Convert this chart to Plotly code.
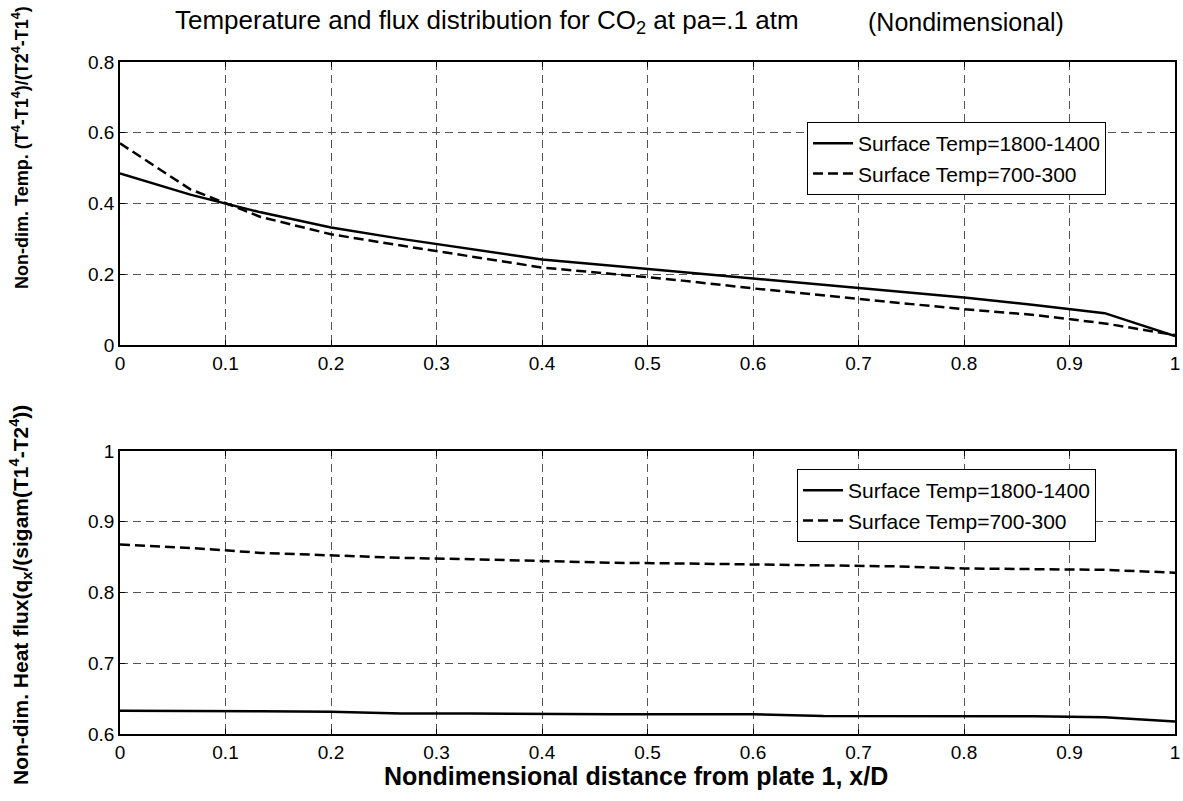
import plotly.graph_objects as go

# x positions (16 nodes, x/D = k/15)
x_nodes = [k / 15 for k in range(16)]

# non-dimensional temperature
temp_hot = [0.485, 0.425, 0.375, 0.332, 0.300, 0.270, 0.242, 0.224, 0.206, 0.188,
            0.172, 0.152, 0.134, 0.113, 0.090, 0.025]
temp_cold = [0.570, 0.440, 0.362, 0.313, 0.281, 0.250, 0.219, 0.201, 0.182, 0.160,
             0.140, 0.120, 0.101, 0.085, 0.061, 0.028]

# non-dimensional heat flux
flux_hot = [0.633, 0.632, 0.632, 0.6315, 0.629, 0.629, 0.628, 0.628, 0.628, 0.628,
            0.6255, 0.6255, 0.6255, 0.625, 0.6235, 0.6175]
flux_cold = [0.868, 0.863, 0.856, 0.852, 0.849, 0.847, 0.844, 0.842, 0.841, 0.840,
             0.838, 0.837, 0.834, 0.833, 0.832, 0.828]

names = ["Surface Temp=1800-1400", "Surface Temp=700-300"]
x_ticks = [0, 0.1, 0.2, 0.3, 0.4, 0.5, 0.6, 0.7, 0.8, 0.9, 1]
x_labels = ["0", "0.1", "0.2", "0.3", "0.4", "0.5", "0.6", "0.7", "0.8", "0.9", "1"]
temp_ticks = [0, 0.2, 0.4, 0.6, 0.8]
temp_labels = ["0", "0.2", "0.4", "0.6", "0.8"]
flux_ticks = [0.6, 0.7, 0.8, 0.9, 1.0]
flux_labels = ["0.6", "0.7", "0.8", "0.9", "1"]

W, H = 1183, 801
FONT = "Liberation Sans, Arial, sans-serif"


def px(x):
    return x / W


def py(y):
    return (H - y) / H


fig = go.Figure()

fig.add_trace(go.Scatter(x=x_nodes, y=temp_hot, mode="lines", name=names[0],
                         line=dict(color="black", width=2.5), xaxis="x", yaxis="y", legend="legend"))
fig.add_trace(go.Scatter(x=x_nodes, y=temp_cold, mode="lines", name=names[1],
                         line=dict(color="black", width=2.5, dash="10px,5px"), xaxis="x", yaxis="y", legend="legend"))
fig.add_trace(go.Scatter(x=x_nodes, y=flux_hot, mode="lines", name=names[0],
                         line=dict(color="black", width=2.5), xaxis="x2", yaxis="y2", legend="legend2"))
fig.add_trace(go.Scatter(x=x_nodes, y=flux_cold, mode="lines", name=names[1],
                         line=dict(color="black", width=2.5, dash="10px,5px"), xaxis="x2", yaxis="y2", legend="legend2"))

x_dom = [px(120), px(1175)]

axis_common = dict(
    showline=True, linecolor="black", linewidth=1.5, mirror="ticks",
    ticks="inside", ticklen=5, tickcolor="black", automargin=False,
    showgrid=True, gridcolor="#555555", gridwidth=1, griddash="8px,5px",
    zeroline=False, tickfont=dict(family=FONT, size=19, color="black"),
)

legend_common = dict(
    xanchor="left", yanchor="top", bgcolor="white", bordercolor="black", borderwidth=1,
    font=dict(family=FONT, size=21, color="black"), tracegroupgap=0, itemwidth=40,
)

fig.update_layout(
    width=W, height=H,
    margin=dict(l=0, r=0, t=0, b=0, autoexpand=False),
    paper_bgcolor="white", plot_bgcolor="white",
    font=dict(family=FONT, color="black"),
    xaxis=dict(domain=x_dom, anchor="y", range=[0, 1], tickvals=x_ticks, ticktext=x_labels, **axis_common),
    yaxis=dict(domain=[py(345), py(62)], anchor="x", range=[0, 0.8],
               tickvals=temp_ticks, ticktext=temp_labels, **axis_common),
    xaxis2=dict(domain=x_dom, anchor="y2", range=[0, 1], tickvals=x_ticks, ticktext=x_labels, **axis_common),
    yaxis2=dict(domain=[py(734), py(451)], anchor="x2", range=[0.6, 1.0],
                tickvals=flux_ticks, ticktext=flux_labels, **axis_common),
    legend=dict(x=px(807), y=py(122), **legend_common),
    legend2=dict(x=px(797), y=py(469), **legend_common),
    showlegend=True,
)

# titles
fig.add_annotation(text="Temperature and flux distribution for CO<sub>2</sub> at pa=.1 atm",
                   x=px(173), y=py(22), xref="paper", yref="paper",
                   xanchor="left", yanchor="middle", showarrow=False,
                   font=dict(family=FONT, size=26, color="black"))
fig.add_annotation(text="(Nondimensional)", x=px(966), y=py(22), xref="paper", yref="paper",
                   xanchor="center", yanchor="middle", showarrow=False,
                   font=dict(family=FONT, size=25, color="black"))
fig.add_annotation(text="<b>Non-dim. Temp. (T<sup>4</sup>-T1<sup>4</sup>)/(T2<sup>4</sup>-T1<sup>4</sup>)</b>",
                   x=px(20), y=py(148), xref="paper", yref="paper", textangle=-90,
                   xanchor="center", yanchor="middle", showarrow=False,
                   font=dict(family=FONT, size=18, color="black"))
fig.add_annotation(text="<b>Non-dim. Heat flux(q<sub>x</sub>/(sigam(T1<sup>4</sup>-T2<sup>4</sup>))</b>",
                   x=px(20), y=py(595), xref="paper", yref="paper", textangle=-90,
                   xanchor="center", yanchor="middle", showarrow=False,
                   font=dict(family=FONT, size=21, color="black"))
fig.add_annotation(text="<b>Nondimensional distance from plate 1, x/D</b>",
                   x=px(636), y=py(776), xref="paper", yref="paper",
                   xanchor="center", yanchor="middle", showarrow=False,
                   font=dict(family=FONT, size=25, color="black"))

fig.write_html("out.html", config=dict(displayModeBar=False),
               post_script="document.body.style.margin='0';document.body.style.overflow='hidden';")
